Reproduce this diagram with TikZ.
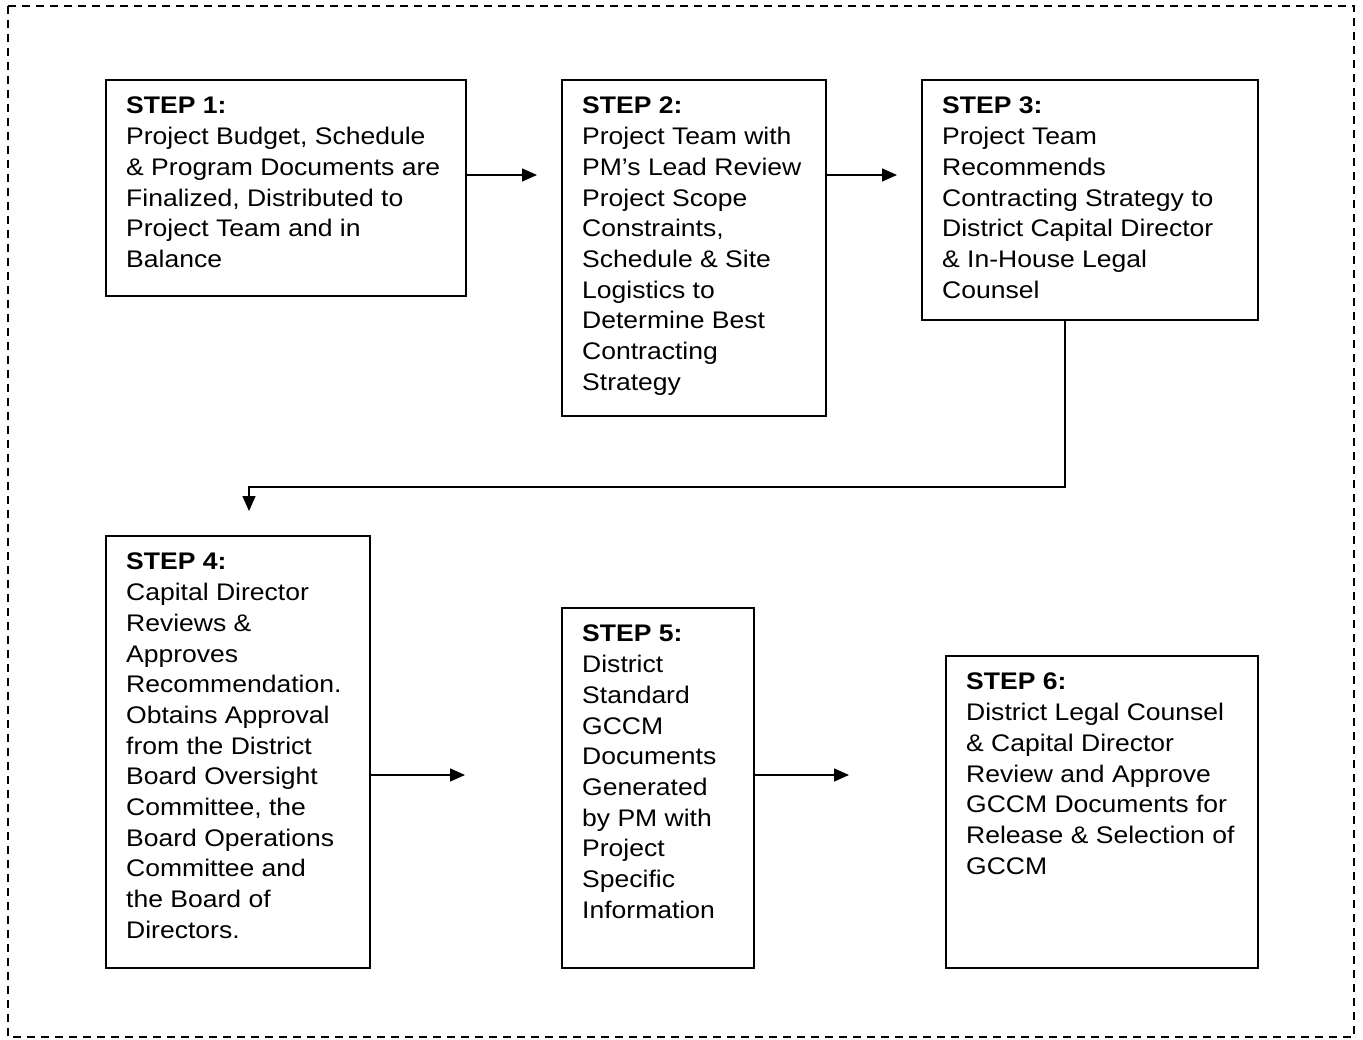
\documentclass[tikz,border=0pt]{standalone}
\usepackage{fontspec}
\setmainfont[FakeStretch=1.105]{Liberation Sans}
\usetikzlibrary{arrows.meta}
\begin{document}
\begin{tikzpicture}[x=1pt,y=-1pt,
  box/.style={draw=black,line width=1.6pt,inner sep=0pt},
  txt/.style={anchor=north west,inner sep=0pt,align=left,font=\fontsize{24}{30.7}\selectfont},
  conn/.style={line width=1.6pt,-{Triangle[length=15pt,width=13pt]}}]
\useasboundingbox (0,0) rectangle (1363,1040);
\draw[line width=1.6pt,dash pattern=on 8pt off 6pt] (8,6) rectangle (1354,1037);
% boxes
\node[box,minimum width=360pt,minimum height=216pt,anchor=north west] (b1) at (105,79) {};
\node[box,minimum width=264pt,minimum height=336pt,anchor=north west] (b2) at (561,79) {};
\node[box,minimum width=336pt,minimum height=240pt,anchor=north west] (b3) at (921,79) {};
\node[box,minimum width=264pt,minimum height=432pt,anchor=north west] (b4) at (105,535) {};
\node[box,minimum width=192pt,minimum height=360pt,anchor=north west] (b5) at (561,607) {};
\node[box,minimum width=312pt,minimum height=312pt,anchor=north west] (b6) at (945,655) {};
% texts
\node[txt] (t1) at ([xshift=21pt,yshift=-18pt]b1.north west) {\textbf{STEP 1:}\\Project Budget, Schedule\\\& Program Documents are\\Finalized, Distributed to\\Project Team and in\\Balance};
\node[txt] (t2) at ([xshift=21pt,yshift=-18pt]b2.north west) {\textbf{STEP 2:}\\Project Team with\\PM’s Lead Review\\Project Scope\\Constraints,\\Schedule \& Site\\Logistics to\\Determine Best\\Contracting\\Strategy};
\node[txt] (t3) at ([xshift=21pt,yshift=-18pt]b3.north west) {\textbf{STEP 3:}\\Project Team\\Recommends\\Contracting Strategy to\\District Capital Director\\\& In-House Legal\\Counsel};
\node[txt] (t4) at ([xshift=21pt,yshift=-18pt]b4.north west) {\textbf{STEP 4:}\\Capital Director\\Reviews \&\\Approves\\Recommendation.\\Obtains Approval\\from the District\\Board Oversight\\Committee, the\\Board Operations\\Committee and\\the Board of\\Directors.};
\node[txt] (t5) at ([xshift=21pt,yshift=-18pt]b5.north west) {\textbf{STEP 5:}\\District\\Standard\\GCCM\\Documents\\Generated\\by PM with\\Project\\Specific\\Information};
\node[txt] (t6) at ([xshift=21pt,yshift=-18pt]b6.north west) {\textbf{STEP 6:}\\District Legal Counsel\\\& Capital Director\\Review and Approve\\GCCM Documents for\\Release \& Selection of\\GCCM};
% connectors
\coordinate (e12) at (537,175);
\coordinate (e23) at (897,175);
\coordinate (e34) at (249,511);
\coordinate (e45) at (465,775);
\coordinate (e56) at (849,775);
\draw[conn] (b1.east |- e12) -- (e12);
\draw[conn] (b2.east |- e23) -- (e23);
\draw[conn] (b3.south -| 1065,0) -- (1065,487) -- (249,487) -- (e34);
\draw[conn] (b4.east |- e45) -- (e45);
\draw[conn] (b5.east |- e56) -- (e56);
\end{tikzpicture}
\end{document}
